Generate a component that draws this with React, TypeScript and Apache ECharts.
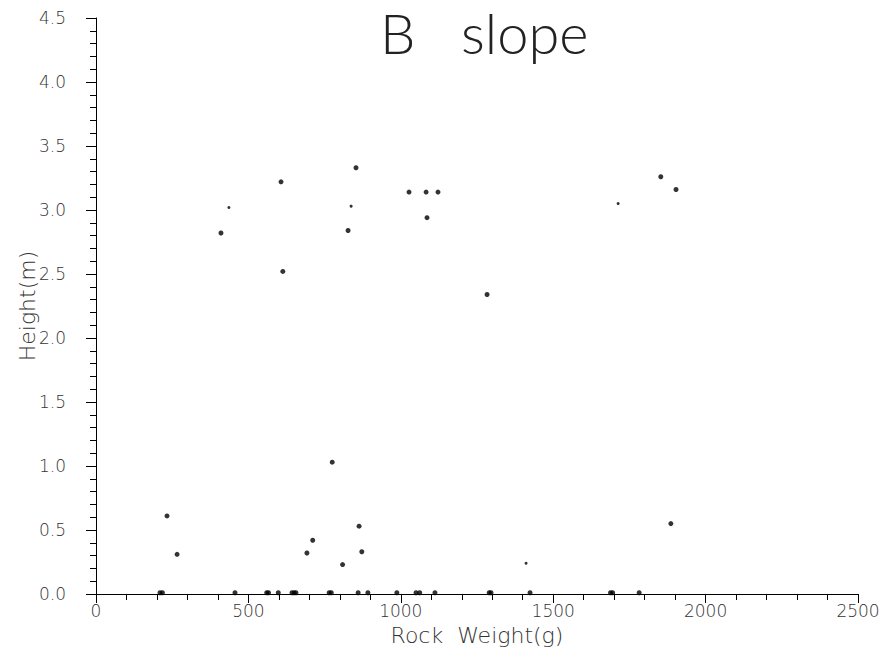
import React, { useEffect, useRef } from "react";
import * as echarts from "echarts";

// Rock weight (g) and height (m)
const weightsMain = [233, 266, 692, 711, 775, 809, 863, 872, 1886,
  853, 607, 410, 613, 827, 1027, 1083, 1122, 1086, 1283, 1853, 1903];
const heightsMain = [0.61, 0.31, 0.32, 0.42, 1.03, 0.23, 0.53, 0.33, 0.55,
  3.33, 3.22, 2.82, 2.52, 2.84, 3.14, 3.14, 3.14, 2.94, 2.34, 3.26, 3.16];

const weightsSmall = [436, 837, 1713, 1411];
const heightsSmall = [3.02, 3.03, 3.05, 0.24];

const weightsGround = [210, 218, 456, 560, 566, 598, 643, 650, 656, 765, 772, 860, 892, 987, 1050, 1062, 1112, 1290, 1296, 1424, 1688, 1695, 1782];
const heightsGround = [0.01, 0.01, 0.01, 0.01, 0.01, 0.01, 0.01, 0.01, 0.01, 0.01, 0.01, 0.01, 0.01, 0.01, 0.01, 0.01, 0.01, 0.01, 0.01, 0.01, 0.01, 0.01, 0.01];

const titleText = "B   slope";
const xName = "Rock  Weight(g)";
const yName = "Height(m)";

const zip = (xs: number[], ys: number[]) => xs.map((x, i) => [x, ys[i]]);

export default function App() {
  const ref = useRef<HTMLDivElement>(null);
  useEffect(() => {
    if (!ref.current) return;
    const chart = echarts.init(ref.current, null, { renderer: "svg" });
    const font = "DejaVu Sans";
    chart.setOption({
      animation: false,
      backgroundColor: "#ffffff",
      title: {
        text: titleText,
        left: 380,
        top: 4,
        padding: 0,
        textStyle: { fontFamily: "Lato", fontWeight: 300, fontSize: 56, color: "#222" },
      },
      grid: { left: 96, right: 32, top: 18, bottom: 65 },
      xAxis: {
        type: "value",
        min: 0,
        max: 2500,
        interval: 500,
        name: xName,
        nameLocation: "middle",
        nameGap: 30,
        nameMoveOverlap: false,
        nameTextStyle: { fontFamily: font, fontWeight: 200, fontSize: 22, color: "#333" },
        axisLine: { show: true, onZero: false, lineStyle: { color: "#000", width: 1 } },
        axisTick: { show: true, inside: false, length: 9, lineStyle: { color: "#000" } },
        minorTick: { show: true, splitNumber: 5, length: 6, lineStyle: { color: "#000" } },
        axisLabel: {
          margin: 8,
          fontFamily: font,
          fontWeight: 200,
          fontSize: 17,
          color: "#333",
          formatter: (v: number) => String(v),
        },
        splitLine: { show: false },
      },
      yAxis: {
        type: "value",
        min: 0,
        max: 4.5,
        interval: 0.5,
        name: yName,
        nameLocation: "middle",
        nameGap: 58,
        nameMoveOverlap: false,
        nameTextStyle: { fontFamily: font, fontWeight: 200, fontSize: 22, color: "#333" },
        axisLine: { show: true, onZero: false, lineStyle: { color: "#000", width: 1 } },
        axisTick: { show: true, inside: false, length: 10, lineStyle: { color: "#000" } },
        minorTick: { show: true, splitNumber: 5, length: 6, lineStyle: { color: "#000" } },
        axisLabel: {
          margin: 30,
          fontFamily: font,
          fontWeight: 200,
          fontSize: 17,
          color: "#333",
          formatter: (v: number) => v.toFixed(1),
        },
        splitLine: { show: false },
      },
      series: [
        {
          type: "scatter",
          data: zip(weightsMain, heightsMain),
          symbol: "circle",
          symbolSize: 5,
          itemStyle: { color: "#000" },
        },
        {
          type: "scatter",
          data: zip(weightsSmall, heightsSmall),
          symbol: "circle",
          symbolSize: 3,
          itemStyle: { color: "#000" },
        },
        {
          type: "scatter",
          data: zip(weightsGround, heightsGround),
          symbol: "circle",
          symbolSize: 5,
          itemStyle: { color: "#000" },
        },
      ],
    });
    return () => chart.dispose();
  }, []);
  return <div ref={ref} style={{ width: 890, height: 659, position: "fixed", left: 0, top: 0 }} />;
}
